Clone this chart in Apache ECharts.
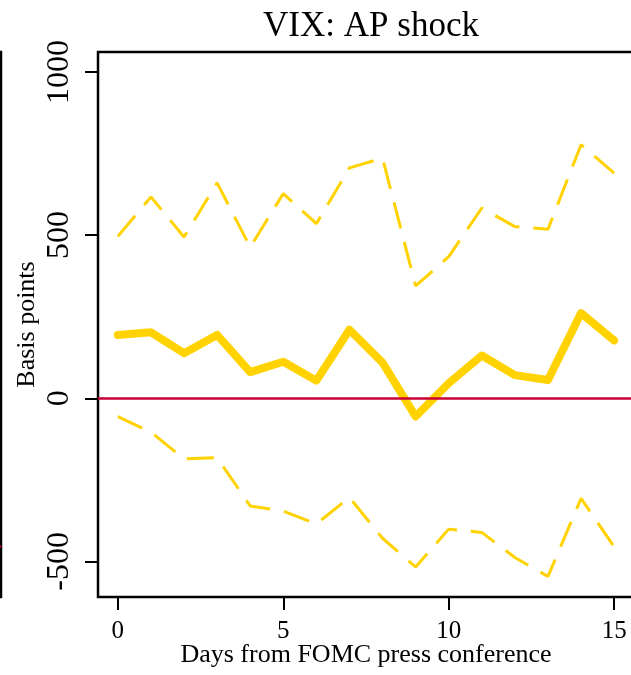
<!DOCTYPE html>
<html>
<head>
<meta charset="utf-8">
<script src="https://cdn.jsdelivr.net/npm/echarts@6/dist/echarts.min.js"></script>
<style>html,body{margin:0;padding:0;background:#fff;}#c{width:631px;height:675px;}</style>
</head>
<body>
<div id="c"></div>
<script>
const days = [0,1,2,3,4,5,6,7,8,9,10,11,12,13,14,15];
const estimate = [194, 202, 138, 194, 80, 112, 54, 210, 109, -56, 46, 131, 71, 56, 261, 177];
const upper = [496, 617, 494, 660, 463, 627, 535, 706, 736, 344, 434, 583, 526, 518, 777, 690];
const lower = [-56, -104, -186, -182, -330, -346, -385, -304, -429, -517, -401, -411, -488, -546, -307, -455];
const xTicks = [0, 5, 10, 15];
const yTicks = [-500, 0, 500, 1000];
const titleText = 'VIX: AP shock';
const xName = 'Days from FOMC press conference';
const yName = 'Basis points';

const FONT = 'Liberation Serif';
const YEL = '#FFD200';
const RED = '#C90035';
const pair = a => days.map((d, i) => [d, a[i]]);

const chart = echarts.init(document.getElementById('c'), null, {renderer: 'canvas'});
chart.setOption({
  animation: false,
  backgroundColor: '#fff',
  title: {
    text: titleText, left: 366, top: 4, textAlign: 'center',
    textStyle: {fontFamily: FONT, fontWeight: 'normal', fontSize: 35, color: '#000'}
  },
  grid: [
    {left: 98, width: 536, top: 52, height: 545, show: true, borderColor: '#000', borderWidth: 2.5,
      containLabel: false, outerBoundsMode: 'none'},
    {left: -30, width: 31, top: 52, height: 545, show: true, borderColor: '#000', borderWidth: 2.5,
      containLabel: false, outerBoundsMode: 'none'}
  ],
  xAxis: [
    {
      type: 'value', gridIndex: 0, min: -0.6, max: 15.6,
      name: xName, nameLocation: 'middle', nameGap: 45, nameMoveOverlap: false,
      nameTextStyle: {fontFamily: FONT, fontSize: 26, color: '#000'},
      axisLine: {show: false, onZero: false},
      splitLine: {show: false},
      axisTick: {show: true, inside: false, length: 13, customValues: xTicks, lineStyle: {color: '#000', width: 2}},
      axisLabel: {show: true, customValues: xTicks, margin: 22, fontFamily: FONT, fontSize: 25, color: '#000'}
    },
    {type: 'value', gridIndex: 1, min: 0, max: 1, show: false, axisLine: {onZero: false}}
  ],
  yAxis: [
    {
      type: 'value', gridIndex: 0, min: -609, max: 1061,
      name: yName, nameLocation: 'middle', nameGap: 58, nameRotate: 90, nameMoveOverlap: false,
      nameTextStyle: {fontFamily: FONT, fontSize: 26, color: '#000'},
      axisLine: {show: false, onZero: false},
      splitLine: {show: false},
      axisTick: {show: true, inside: false, length: 13, customValues: yTicks, lineStyle: {color: '#000', width: 2}},
      axisLabel: {show: true, customValues: yTicks, rotate: 90, margin: 22, fontFamily: FONT, fontSize: 32, color: '#000',
        formatter: v => String(v)}
    },
    {type: 'value', gridIndex: 1, min: -92.3, max: 907.7, show: false, axisLine: {onZero: false}}
  ],
  series: [
    {
      type: 'line', xAxisIndex: 0, yAxisIndex: 0, data: pair(upper), showSymbol: false, symbol: 'none',
      lineStyle: {color: YEL, width: 3, type: [27, 14]}, z: 2
    },
    {
      type: 'line', xAxisIndex: 0, yAxisIndex: 0, data: pair(lower), showSymbol: false, symbol: 'none',
      lineStyle: {color: YEL, width: 3, type: [27, 14]}, z: 2
    },
    {
      type: 'line', xAxisIndex: 0, yAxisIndex: 0, data: pair(estimate), showSymbol: false, symbol: 'none',
      lineStyle: {color: YEL, width: 8, cap: 'round', join: 'round'}, z: 3
    },
    {
      type: 'line', xAxisIndex: 0, yAxisIndex: 0, data: [], z: 4,
      markLine: {silent: true, symbol: 'none', label: {show: false},
        lineStyle: {color: RED, width: 2.5, type: 'solid'}, data: [{yAxis: 0}]}
    },
    {
      type: 'line', xAxisIndex: 1, yAxisIndex: 1, data: [], z: 4,
      markLine: {silent: true, symbol: 'none', label: {show: false},
        lineStyle: {color: RED, width: 2.5, type: 'solid'}, data: [{yAxis: 0}]}
    }
  ]
});
</script>
</body>
</html>
